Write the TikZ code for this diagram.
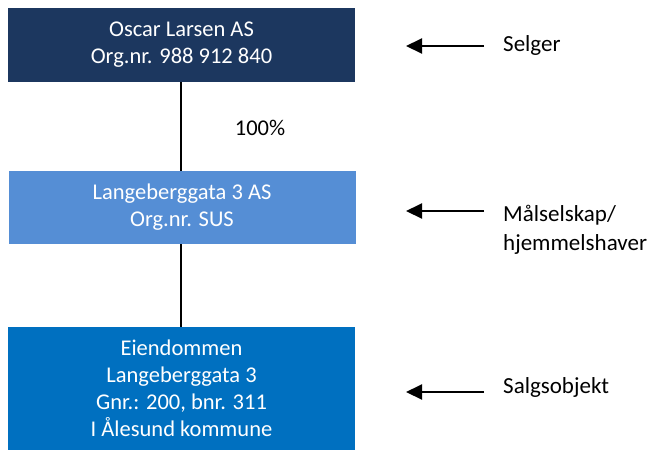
\documentclass[tikz,border=0pt]{standalone}
\usepackage{fontspec}
\setmainfont{Carlito}
\usetikzlibrary{arrows.meta}
\definecolor{navy}{HTML}{1C375F}
\definecolor{midblue}{HTML}{558ED5}
\definecolor{deepblue}{HTML}{0070C0}
\tikzset{
  entity/.style={rectangle, inner sep=0pt, minimum width=347pt, text=white, align=center,
    font=\fontsize{22.5pt}{27pt}\selectfont},
  link/.style={line width=1.5pt, black},
  pointer/.style={line width=2pt, black, -{Triangle[length=16pt,width=15pt]}},
  lab/.style={anchor=west, align=left, inner sep=0pt, font=\fontsize{23pt}{29pt}\selectfont}
}
\begin{document}
\begin{tikzpicture}[x=1pt,y=-1pt]
\useasboundingbox (0,0) rectangle (654,451);
\node[entity, fill=navy, minimum height=74pt] (seller) at (181.5,45) {Oscar Larsen AS\\Org.nr. 988 912 840};
\node[entity, fill=midblue, minimum height=73pt] (target) at (182,207.5) {Langeberggata 3 AS\\Org.nr. SUS};
\node[entity, fill=deepblue, minimum height=123pt] (prop) at (181.5,388.5) {Eiendommen\\Langeberggata 3\\Gnr.: 200, bnr. 311\\I Ålesund kommune};
\draw[link] (seller.south -| 181,0) -- (target.north -| 181,0);
\draw[link] (target.south -| 181,0) -- (prop.north -| 181,0);
\node[font=\fontsize{22.5pt}{27pt}\selectfont] (pct) at (260,128) {100\%};
\coordinate (a1s) at (484,46); \coordinate (a1e) at (406,46);
\coordinate (a2s) at (484,211); \coordinate (a2e) at (406,211);
\coordinate (a3s) at (484,392); \coordinate (a3e) at (406,392);
\draw[pointer] (a1s) -- (a1e);
\draw[pointer] (a2s) -- (a2e);
\draw[pointer] (a3s) -- (a3e);
\node[lab] (l1) at (503,45) {Selger};
\node[lab] (l2) at (503,229.5) {Målselskap/\\hjemmelshaver};
\node[lab] (l3) at (503,387) {Salgsobjekt};
\end{tikzpicture}
\end{document}
